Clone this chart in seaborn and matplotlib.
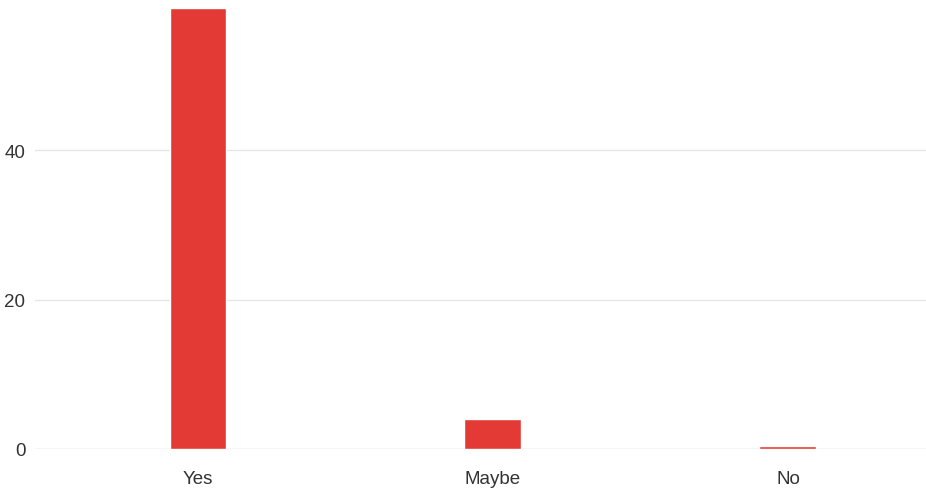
import matplotlib
matplotlib.use("Agg")
import matplotlib.pyplot as plt
import seaborn as sns
import pandas as pd

categories = ["Yes", "Maybe", "No"]
counts = [59, 4, 0.35]
y_ticks = [0, 20, 40]

df = pd.DataFrame({"answer": categories, "count": counts})

sns.set_theme(style="white")
plt.rcParams['font.family'] = ['Liberation Sans', 'DejaVu Sans']

fig = plt.figure(figsize=(9.26, 4.89), dpi=100)
ax = fig.add_axes([35/926, 39/489, 891/926, 441/489])

ax.yaxis.grid(True, color="#e6e6e6", linewidth=1, zorder=0)
ax.set_axisbelow(True)
ax.axhline(0, color="#e6e6e6", linewidth=1, zorder=1)

sns.barplot(data=df, x="answer", y="count", color="#E33A35", saturation=1,
            width=0.193, ax=ax, zorder=3)

ax.set_ylim(0, 59)
ax.set_xlim(-0.5525, 2.468)
ax.set_yticks(y_ticks)
for s in ax.spines.values():
    s.set_visible(False)
ax.set_xlabel("")
ax.set_ylabel("")
ax.tick_params(axis="y", length=0, pad=7, labelsize=13.5, labelcolor="#333333")
ax.tick_params(axis="x", length=0, pad=15, labelsize=13.5, labelcolor="#333333")

fig.savefig("out.png", dpi=100, facecolor="white")
